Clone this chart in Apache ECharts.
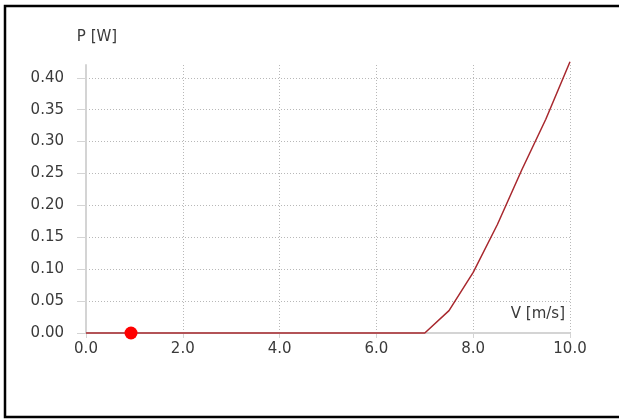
<!DOCTYPE html>
<html>
<head>
<meta charset="utf-8">
<script src="https://cdn.jsdelivr.net/npm/echarts@6/dist/echarts.min.js"></script>
<style>
  html, body { margin: 0; padding: 0; background: #fff; }
  #chart { width: 619px; height: 419px; }
</style>
</head>
<body>
<div id="chart"></div>
<script>
// wind speed V [m/s] vs power P [W]
const speeds = [0, 7.0, 7.5, 8.0, 8.5, 9.0, 9.5, 10.0];
const powers = [0, 0, 0.035, 0.095, 0.17, 0.255, 0.335, 0.425];
// current operating point
const markerPoint = [0.93, 0];
const xTicks = [0, 2, 4, 6, 8, 10];
const yTicks = [0, 0.05, 0.1, 0.15, 0.2, 0.25, 0.3, 0.35, 0.4];

const chart = echarts.init(document.getElementById("chart"));

const textColor = "#3a3a3a";
const font = "DejaVu Sans";

const option = {
  animation: false,
  graphic: [
    {
      // frame: left, top and bottom edges only
      type: "polyline",
      shape: { points: [[619, 6], [5, 6], [5, 417], [619, 417]] },
      style: { fill: null, stroke: "#000", lineWidth: 2.5 },
      silent: true,
    },
  ],
  grid: { left: 86, right: 49, top: 65, bottom: 86 },
  xAxis: {
    type: "value",
    min: 0,
    max: 10,
    interval: 2,
    name: "V [m/s]",
    nameLocation: "end",
    nameGap: -5,
    nameTextStyle: {
      color: textColor,
      fontFamily: font,
      fontSize: 15,
      align: "right",
      verticalAlign: "bottom",
      padding: [0, 0, 11, 0],
    },
    axisLine: { lineStyle: { color: "#d4d4d4", width: 2 } },
    axisTick: { show: true, length: 5, lineStyle: { color: "#d4d4d4" }, customValues: xTicks },
    axisLabel: {
      color: textColor,
      fontFamily: font,
      fontSize: 15,
      margin: 9,
      customValues: xTicks,
      formatter: (v) => v.toFixed(1),
    },
    splitLine: { show: true, lineStyle: { color: "#b8b8b8", type: [1, 2] } },
  },
  yAxis: {
    type: "value",
    min: 0,
    max: 0.42,
    interval: 0.05,
    name: "P [W]",
    nameLocation: "end",
    nameGap: 20,
    nameTextStyle: {
      color: textColor,
      fontFamily: font,
      fontSize: 15,
      padding: [0, 0, 0, 22],
    },
    axisLine: { show: true, lineStyle: { color: "#d4d4d4", width: 2 } },
    axisTick: { show: true, length: 9, lineStyle: { color: "#d4d4d4" }, customValues: yTicks },
    axisLabel: {
      color: textColor,
      fontFamily: font,
      fontSize: 15,
      margin: 22,
      customValues: yTicks,
      formatter: (v) => v.toFixed(2),
    },
    splitLine: { show: true, lineStyle: { color: "#b8b8b8", type: [1, 2] } },
  },
  series: [
    {
      type: "line",
      data: speeds.map((v, i) => [v, powers[i]]),
      symbol: "none",
      lineStyle: { color: "#a8282e", width: 1.5 },
      clip: false,
    },
    {
      type: "scatter",
      data: [markerPoint],
      symbolSize: 13,
      itemStyle: { color: "#ff0000", opacity: 1 },
      z: 5,
    },
  ],
};

chart.setOption(option);
</script>
</body>
</html>
